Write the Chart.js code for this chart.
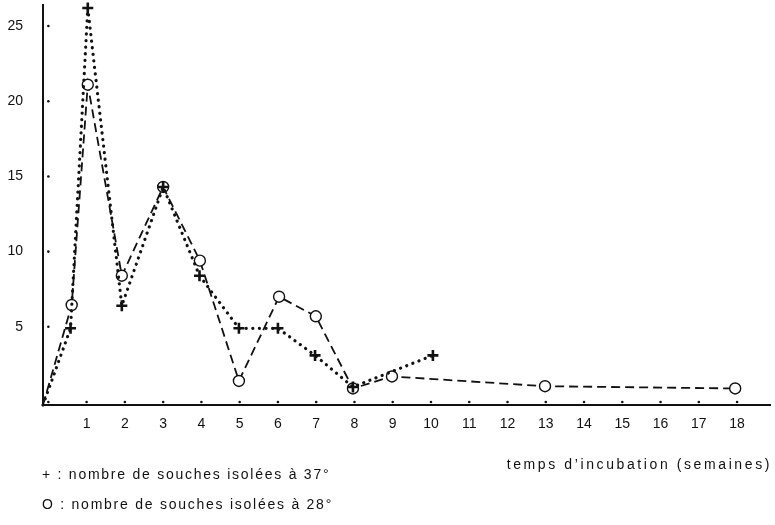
<!DOCTYPE html>
<html>
<head>
<meta charset="utf-8">
<script src="https://cdn.jsdelivr.net/npm/chart.js@4.4.1/dist/chart.umd.min.js"></script>
<style>
  html, body { margin: 0; padding: 0; background: #fff; }
  #wrap { width: 775px; height: 525px; }
</style>
</head>
<body>
<div id="wrap"><canvas id="chart" width="775" height="525"></canvas></div>
<script>
// Axis ticks
const xTicks = [1, 2, 3, 4, 5, 6, 7, 8, 9, 10, 11, 12, 13, 14, 15, 16, 17, 18];
const xDots = [0, 1, 2, 3, 4, 5, 6, 7, 8, 9, 10, 11, 12, 13, 14, 15, 16, 17, 18];
const yTicks = [5, 10, 15, 20, 25];

// + : strains isolated at 37°
const weeks37 = [-0.14, 0.58, 1.03, 1.92, 3, 3.95, 4.98, 6, 6.97, 7.96, 10.05];
const count37 = [-0.2, 4.9, 26.2, 6.4, 14.3, 8.4, 4.9, 4.9, 3.1, 1.0, 3.1];

// O : strains isolated at 28°
const weeks28 = [-0.14, 0.61, 1.03, 1.92, 3, 3.96, 4.98, 6.03, 6.99, 7.96, 8.98, 12.98, 17.95];
const count28 = [-0.2, 6.45, 21.1, 8.4, 14.3, 9.4, 1.4, 7.0, 5.7, 0.9, 1.7, 1.05, 0.9];

const legend37 = '+ : nombre de souches isolées à 37°';
const legend28 = 'O : nombre de souches isolées à 28°';
const xTitle = 'temps d\u2019incubation (semaines)';

const FONT = '"Liberation Sans", Arial, sans-serif';

function toPoints(xs, ys) {
    return xs.map((x, i) => ({ x: x, y: ys[i] }));
}

// no label overflow padding, the plot box is fixed
function noPadding(scale) {
    scale.paddingTop = 0;
    scale.paddingBottom = 0;
    scale.paddingLeft = 0;
    scale.paddingRight = 0;
}

// small dots along the axes + legend text
const decorations = {
    id: 'decorations',
    afterDraw(chart) {
        const ctx = chart.ctx;
        const xs = chart.scales.x;
        const ys = chart.scales.y;
        ctx.save();
        ctx.fillStyle = '#111';
        const y0 = ys.getPixelForValue(0);
        const x0 = xs.getPixelForValue(0);
        xDots.forEach(v => {
            ctx.beginPath();
            ctx.arc(xs.getPixelForValue(v), y0, 1.3, 0, Math.PI * 2);
            ctx.fill();
        });
        yTicks.forEach(v => {
            ctx.beginPath();
            ctx.arc(x0, ys.getPixelForValue(v), 1.3, 0, Math.PI * 2);
            ctx.fill();
        });

        ctx.font = '14px ' + FONT;
        ctx.letterSpacing = '1.75px';
        ctx.textBaseline = 'middle';
        ctx.textAlign = 'left';
        ctx.fillText(legend37, 42, 475);
        ctx.fillText(legend28, 42, 505);
        ctx.textAlign = 'right';
        ctx.letterSpacing = '2.6px';
        ctx.fillText(xTitle, 772, 465);
        ctx.restore();
    }
};

new Chart(document.getElementById('chart'), {
    type: 'line',
    data: {
        datasets: [
            {
                label: '37',
                data: toPoints(weeks37, count37),
                borderColor: '#111',
                borderWidth: 3.2,
                borderDash: [0.1, 6.5],
                borderCapStyle: 'round',
                tension: 0,
                pointStyle: 'cross',
                pointRadius: weeks37.map((x, i) => i === 0 ? 0 : 5.5),
                pointBorderWidth: 2.6,
                pointBorderColor: '#111',
                clip: false
            },
            {
                label: '28',
                data: toPoints(weeks28, count28),
                borderColor: '#111',
                borderWidth: 1.8,
                borderDash: [9, 5],
                tension: 0,
                pointStyle: 'circle',
                pointRadius: weeks28.map((x, i) => i === 0 ? 0 : 5.5),
                pointBorderWidth: 1.4,
                pointBorderColor: '#111',
                pointBackgroundColor: '#fff',
                clip: false
            }
        ]
    },
    options: {
        responsive: false,
        animation: false,
        layout: { autoPadding: false, padding: { top: 5, right: 5, left: 0, bottom: 0 } },
        plugins: {
            legend: { display: false },
            tooltip: { enabled: false }
        },
        scales: {
            x: {
                type: 'linear',
                min: -0.14,
                max: 18.86,
                afterBuildTicks: scale => { scale.ticks = xTicks.map(v => ({ value: v })); },
                afterFit: scale => { scale.height = 120; noPadding(scale); },
                grid: { display: false },
                border: { display: true, color: '#111', width: 2 },
                ticks: {
                    color: '#111',
                    padding: 3,
                    font: { family: FONT, size: 14 },
                    callback: v => String(v)
                }
            },
            y: {
                type: 'linear',
                min: -0.2,
                max: 26.4,
                afterBuildTicks: scale => { scale.ticks = yTicks.map(v => ({ value: v })); },
                afterFit: scale => { scale.width = 43; noPadding(scale); },
                grid: { display: false },
                border: { display: true, color: '#111', width: 2 },
                ticks: {
                    color: '#111',
                    padding: 12,
                    font: { family: FONT, size: 14 },
                    callback: v => String(v)
                }
            }
        }
    },
    plugins: [decorations]
});
</script>
</body>
</html>
